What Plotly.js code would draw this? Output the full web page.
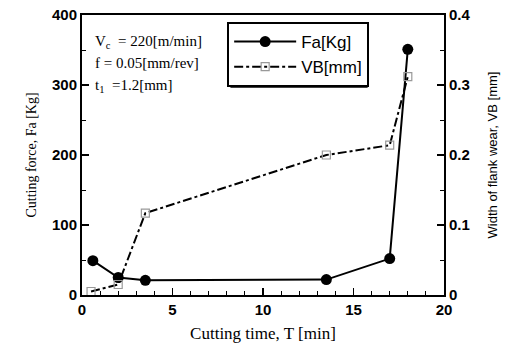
<!DOCTYPE html>
<html>
<head>
<meta charset="utf-8">
<script src="https://cdn.plot.ly/plotly-3.0.1.min.js"></script>
<style>html,body{margin:0;padding:0;background:#fff;}#chart{width:509px;height:350px;}</style>
</head>
<body>
<div id="chart"></div>
<script>
const timeFa = [0.6, 2.0, 3.5, 13.5, 17.0, 18.0];
const forceFa = [49, 25, 21, 22, 52, 351];
const timeVB = [0.5, 2.0, 3.5, 13.5, 17.0, 18.0];
const wearVB = [0.005, 0.015, 0.117, 0.2, 0.214, 0.312];
const xTicks = [0, 5, 10, 15, 20];
const yTicks = [0, 100, 200, 300, 400];
const y2Ticks = [0, 0.1, 0.2, 0.3, 0.4];

const serif = "Liberation Serif, Times New Roman, serif";
const sans = "Liberation Sans, Arial, sans-serif";

const traces = [
  {
    x: timeFa, y: forceFa, name: 'Fa[Kg]', type: 'scatter', mode: 'lines+markers',
    line: {color: '#000', width: 2},
    marker: {symbol: 'circle', size: 11, color: '#000'}
  },
  {
    x: timeVB, y: wearVB, name: 'VB[mm]', type: 'scatter', mode: 'lines+markers', yaxis: 'y2',
    line: {color: '#000', width: 2, dash: 'dashdot'},
    marker: {symbol: 'square-open', size: 8, color: '#999', line: {width: 1.2, color: '#999'}}
  }
];

const axisCommon = {
  showline: true, linecolor: '#000', linewidth: 2,
  ticks: 'inside', ticklen: 7, tickwidth: 1.5, tickcolor: '#000',
  showgrid: false, zeroline: false,
  tickfont: {family: sans, size: 15, color: '#000', weight: 'bold'}
};

const layout = {
  width: 509, height: 350,
  margin: {l: 82, r: 65, t: 15, b: 55},
  paper_bgcolor: '#fff', plot_bgcolor: '#fff',
  showlegend: true,
  legend: {
    x: 0.401, y: 0.975, xanchor: 'left', yanchor: 'top',
    bgcolor: '#fff', bordercolor: '#000', borderwidth: 2,
    font: {family: sans, size: 17, color: '#000'},
    tracegroupgap: 0, itemwidth: 62
  },
  shapes: [
    {type: 'rect', xref: 'paper', yref: 'paper', layer: 'above',
     x0: 0.41, x1: 0.789, y0: 0.74, y1: 0.955,
     fillcolor: '#000', line: {width: 0}}
  ],
  xaxis: Object.assign({}, axisCommon, {
    range: [0, 20], tickvals: xTicks, mirror: true,
    minor: {ticks: 'inside', dtick: 1, ticklen: 4, tickcolor: '#000', tickwidth: 1},
    title: {text: 'Cutting time, T [min]', font: {family: serif, size: 17, color: '#000'}, standoff: 10}
  }),
  yaxis: Object.assign({}, axisCommon, {
    range: [0, 400], tickvals: yTicks,
    minor: {ticks: 'inside', dtick: 50, ticklen: 4, tickcolor: '#000', tickwidth: 1},
    title: {text: 'Cutting force, Fa [Kg]', font: {family: serif, size: 14, color: '#000'}, standoff: 12}
  }),
  yaxis2: Object.assign({}, axisCommon, {
    range: [0, 0.4], tickvals: y2Ticks, overlaying: 'y', side: 'right',
    minor: {ticks: 'inside', dtick: 0.05, ticklen: 4, tickcolor: '#000', tickwidth: 1},
    title: {text: 'Width of flank wear, VB [mm]', font: {family: sans, size: 13, color: '#000'}, standoff: 18}
  }),
  annotations: [
    {xref: 'paper', yref: 'paper', x: 0.03, y: 0.905, xanchor: 'left', yanchor: 'middle', showarrow: false,
     text: 'V<sub>c</sub>  = 220[m/min]', font: {family: serif, size: 15, color: '#000'}},
    {xref: 'paper', yref: 'paper', x: 0.03, y: 0.83, xanchor: 'left', yanchor: 'middle', showarrow: false,
     text: 'f = 0.05[mm/rev]', font: {family: serif, size: 15, color: '#000'}},
    {xref: 'paper', yref: 'paper', x: 0.03, y: 0.745, xanchor: 'left', yanchor: 'middle', showarrow: false,
     text: 't<sub>1</sub>  =1.2[mm]', font: {family: serif, size: 15, color: '#000'}}
  ]
};

Plotly.newPlot('chart', traces, layout, {displayModeBar: false, staticPlot: true});
</script>
</body>
</html>
